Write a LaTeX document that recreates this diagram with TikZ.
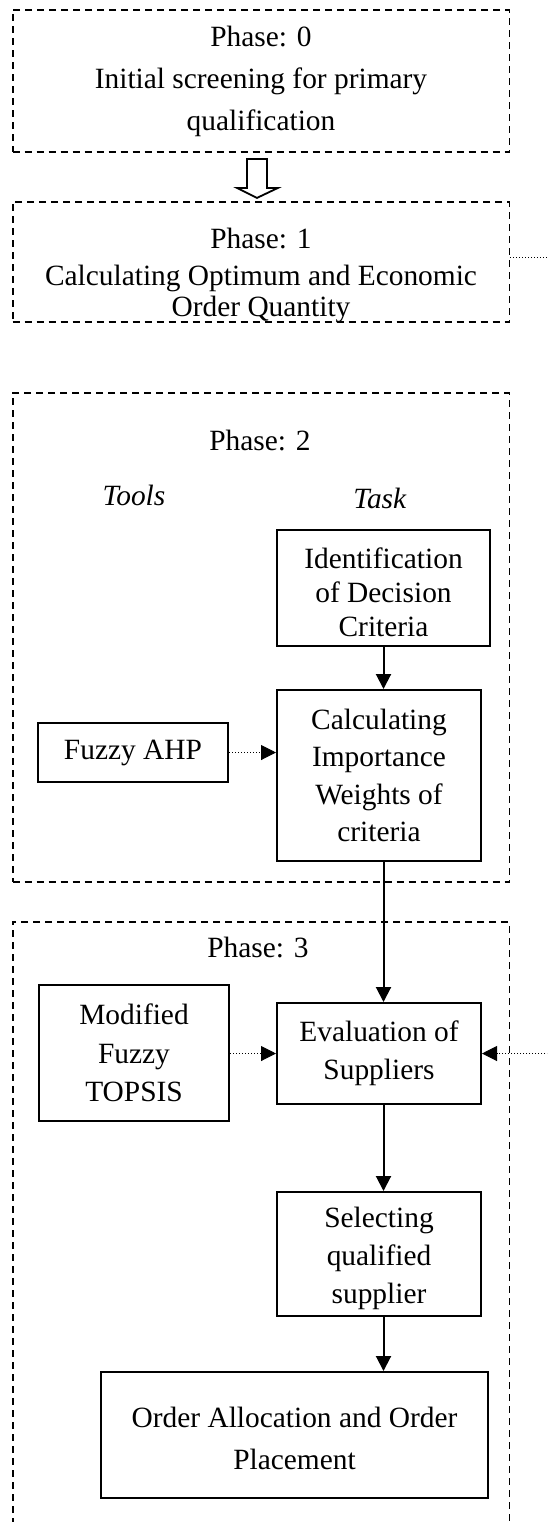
\documentclass[tikz,border=0pt]{standalone}
\usepackage{fontspec}
\setmainfont{Liberation Serif}
\usetikzlibrary{arrows.meta}

\tikzset{
  phasebox/.style={draw, dash pattern=on 3.5pt off 2.5pt, line width=0.9pt, inner sep=0pt},
  taskbox/.style={draw, line width=1pt, align=center, inner sep=0pt},
  arr/.style={-{Triangle[length=7.5pt,width=7.5pt]}, line width=1pt},
  dotarr/.style={-{Triangle[length=7.5pt,width=7.5pt]}, line width=0.5pt, dash pattern=on 0.5pt off 1pt},
  dotline/.style={line width=0.5pt, dash pattern=on 0.5pt off 1pt}
}
% pushes the text of a box a little down
\newcommand{\lowstrut}[1]{\rule{0pt}{#1}}

\begin{document}
\begin{tikzpicture}[x=0.5pt, y=-0.5pt, font={\fontsize{14.7}{19}\selectfont}]

\useasboundingbox (0,0) rectangle (547,1522);
\clip (0,0) rectangle (547,1522);

% phase 0 and 1
\node [phasebox, minimum width=248.4pt, minimum height=71pt, align=center,
font={\fontsize{14.7}{21}\selectfont}] (p0)
 at (261,81) {Phase: 0\\Initial screening for primary\\qualification};

\node [phasebox, minimum width=248.4pt, minimum height=60pt] (p1) at (261,262) {};
\node (t1) at (261,239) {Phase: 1};
\node [align=center, font={\fontsize{14.7}{15.5}\selectfont}] (eoq)
 at (261,294) {Calculating Optimum and Economic\\Order Quantity};

\draw [shift={(p0.south)}, line width=0.9pt] (-14,6) -- (6,6) -- (6,35) -- (17,35)
 -- (-4,45) -- (-24,35) -- (-14,35) -- cycle;

% phase 2
\node [phasebox, minimum width=248.4pt, minimum height=244.5pt] (p2) at (261,637.5) {};
\node (t2) at (260,440) {Phase: 2};
\node (tools) at (134,495) {\textit{Tools}};
\node (task) at (380,498) {\textit{Task}};

\node [taskbox, minimum width=106.5pt, minimum height=58pt,
font={\fontsize{14.7}{17}\selectfont}] (idc)
 at (383.5,588) {\lowstrut{15pt}Identification\\of Decision\\Criteria};
\node [taskbox, minimum width=102pt, minimum height=85.5pt,
font={\fontsize{14.7}{18.8}\selectfont}] (ciw)
 at (379,775.5) {Calculating\\Importance\\Weights of\\criteria};
\node [taskbox, minimum width=95pt, minimum height=29.5pt] (fahp)
 at (133,752.5) {Fuzzy AHP};

% phase 3
\node [phasebox, minimum width=248.4pt, minimum height=339pt] (p3) at (261,1261) {};
\node (t3) at (258,947) {Phase: 3};

\node [taskbox, minimum width=95pt, minimum height=68pt,
font={\fontsize{14.7}{19.3}\selectfont}] (mft)
 at (134,1053) {Modified\\Fuzzy\\TOPSIS};
\node [taskbox, minimum width=102pt, minimum height=50.5pt] (eos)
 at (379,1053.5) {Evaluation of\\Suppliers};
\node [taskbox, minimum width=102pt, minimum height=62pt] (sqs)
 at (379,1254) {\lowstrut{15pt}Selecting\\qualified\\supplier};
\node [taskbox, minimum width=193.5pt, minimum height=63pt,
font={\fontsize{14.7}{21}\selectfont}] (oap)
 at (294.5,1435) {\lowstrut{14pt}Order Allocation and Order\\Placement};

% connectors
\coordinate (eoqr) at (560,257);
\coordinate (eosr) at (560,1053.5);

\draw [arr] (idc.south) -- (idc.south |- ciw.north);
\draw [arr] (ciw.south -| idc.south) -- (eos.north -| idc.south);
\draw [arr] (eos.south -| idc.south) -- (sqs.north -| idc.south);
\draw [arr] (sqs.south -| idc.south) -- (oap.north -| idc.south);

\draw [dotarr] (fahp.east) -- (fahp.east -| ciw.west);
\draw [dotarr] (eos.west -| mft.east) -- (eos.west);
\draw [dotarr] (eosr) -- (eos.east);
\draw [dotline] (eoqr -| p1.east) -- (eoqr);

\end{tikzpicture}
\end{document}
